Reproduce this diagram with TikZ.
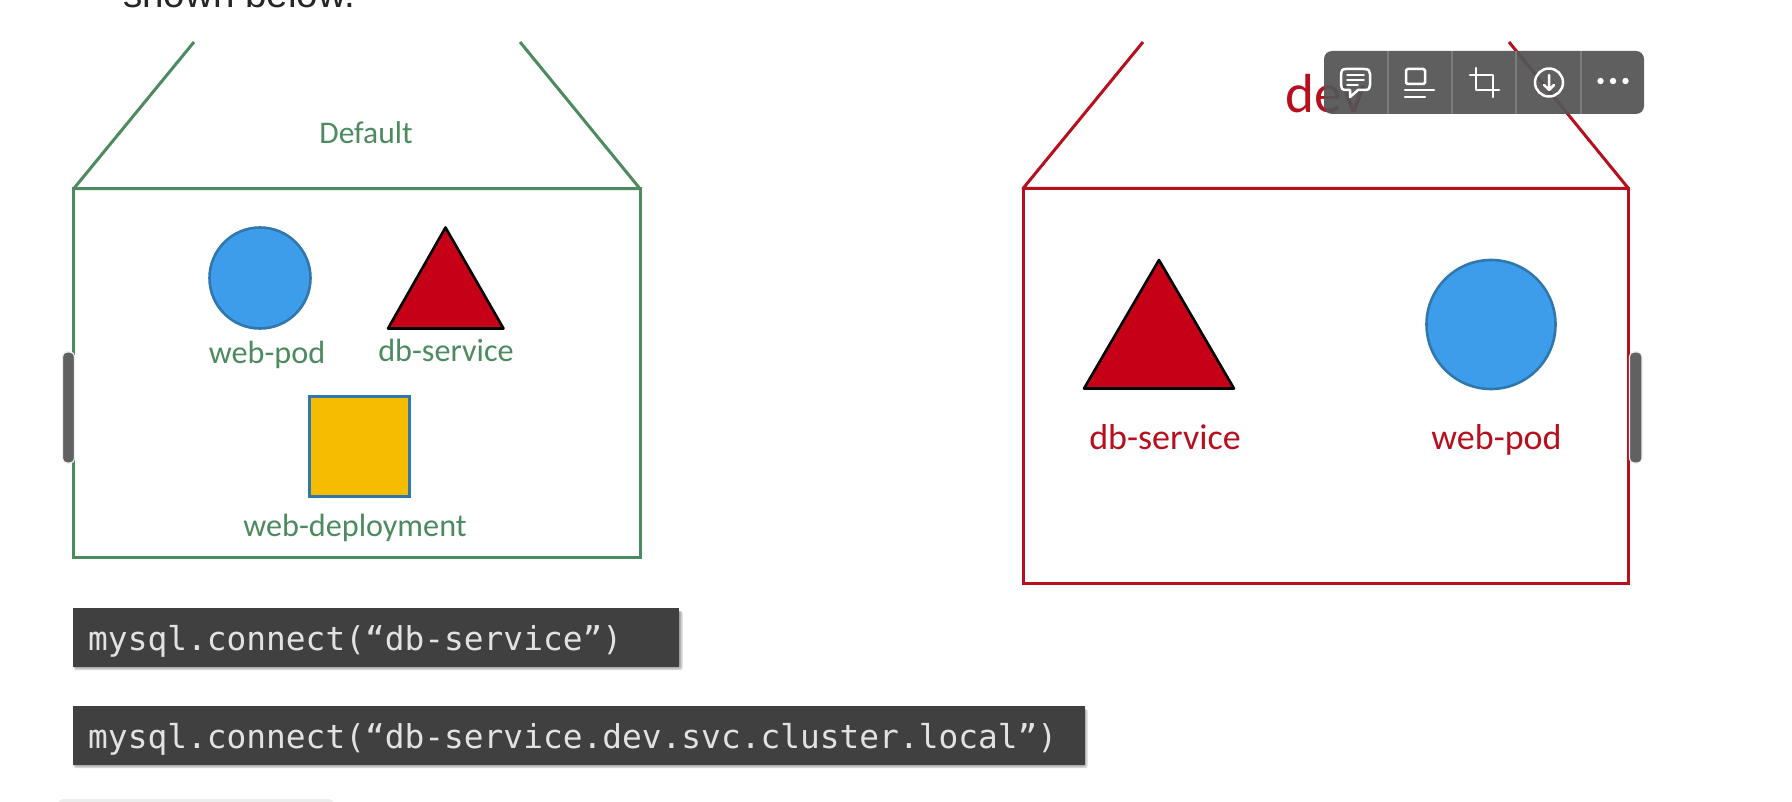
\documentclass[tikz,border=0pt]{standalone}
\usepackage{fontspec}
\setmainfont{Carlito}
\newfontfamily\codefont{DejaVu Sans Mono}
\newfontfamily\pagefont{Liberation Sans}
\definecolor{nsgreen}{HTML}{4C8A5F}
\definecolor{nsred}{HTML}{B80F1E}
\definecolor{trired}{HTML}{C50017}
\definecolor{podblue}{HTML}{3E9DEB}
\definecolor{podedge}{HTML}{2F77AD}
\definecolor{depyellow}{HTML}{F6BC00}
\definecolor{codebg}{HTML}{404040}
\definecolor{codefg}{HTML}{E2E2E2}
\definecolor{barbg}{HTML}{555555}
\definecolor{barsep}{HTML}{7C7C7C}
\tikzset{
  greenline/.style={draw=nsgreen,line width=3pt},
  redline/.style={draw=nsred,line width=3pt},
  tritop/.style={fill=trired,draw=black,line width=2.6pt,line join=round},
  podshape/.style={fill=podblue,draw=podedge,line width=2.6pt},
  greenlabel/.style={text=nsgreen,font=\fontsize{32.2}{32}\selectfont,anchor=base,inner sep=0pt},
  redlabel/.style={text=nsred,font=\fontsize{36}{36}\selectfont,anchor=base,inner sep=0pt},
  codetext/.style={text=codefg,font=\codefont\fontsize{32.85}{33}\selectfont,anchor=base west,inner sep=0pt},
  codebox/.style={fill=codebg,draw=none},
  codeshadow/.style={fill=black,draw=none,fill opacity=.16,rounded corners=2pt},
  barline/.style={draw=white,line width=2.5pt,line cap=round,line join=round},
  handle/.style={fill=black!62,draw=white!94!black,line width=1.2pt,rounded corners=4.5pt}
}
\begin{document}
\begin{tikzpicture}[x=1pt,y=-1pt]
\useasboundingbox (0,0) rectangle (1792,802);
\fill[white] (0,0) rectangle (1792,802);
% page text cut by the top edge
\node[anchor=base west,inner sep=0pt,text=black!85,font=\pagefont\fontsize{38.6}{38}\selectfont] (pagetext) at (123,8) {shown below.};
% green namespace
\draw[greenline,line join=round] (194,42) -- (73.7,188.7) -- (640,188.7) -- (520,42);
\draw[greenline] (73.7,188.7) rectangle (640,557.7);
\node[greenlabel,font=\fontsize{31.5}{31}\selectfont] (default) at (366,143.5) {Default};
\draw[podshape] (260,278) circle (50.5);
\draw[tritop] (445.5,227.5) -- (503.5,328.5) -- (388,328.5) -- cycle;
\node[greenlabel] (webpodg) at (267,363) {web-pod};
\node[greenlabel] (dbserviceg) at (446,362) {db-service};
\draw[fill=depyellow,draw=podedge,line width=2.6pt] (309.5,396.5) rectangle (409.5,496.5);
\node[greenlabel] (webdep) at (355,536.5) {web-deployment};
% red namespace
\draw[redline,line join=round] (1143,42) -- (1023,188.5) -- (1628.5,188.5) -- (1509,42);
\draw[redline] (1023,188.5) rectangle (1628.5,583);
\node[anchor=base,inner sep=0pt,text=nsred,font=\fontsize{55}{55}\selectfont] (dev) at (1326,113) {dev};
\draw[tritop] (1159,260) -- (1234,388.5) -- (1084,388.5) -- cycle;
\draw[podshape] (1491,324.5) circle (64.5);
\node[redlabel] (dbservicer) at (1165,449.5) {db-service};
\node[redlabel] (webpodr) at (1496.5,449.5) {web-pod};
% code lines
\foreach \gr in {0,1.5,3}{
  \fill[codeshadow] (74,611) rectangle (679.5+\gr,667+\gr);
  \fill[codeshadow] (74,709) rectangle (1084.5+\gr,765+\gr);
}
\fill[codebox] (72.5,608) rectangle (679,667);
\node[codetext] (codeone) at (88,650) {mysql.connect(“db-service”)};
\fill[codebox] (72.5,706) rectangle (1084.5,765);
\node[codetext] (codetwo) at (88,748) {mysql.connect(“db-service.dev.svc.cluster.local”)};
% viewer toolbar
\fill[barbg,fill opacity=.94,rounded corners=8pt] (1324,51) rectangle (1644,114);
\foreach \sx in {1388,1452,1516,1581}
  \draw[barsep,line width=1.2pt] (\sx,51) -- (\sx,114);
% comment icon
\draw[barline] (1346,69) -- (1364,69) .. controls (1369,69) and (1370,71) .. (1370,74)
  -- (1370,85) .. controls (1370,88) and (1369,90) .. (1365,90) -- (1358,90) -- (1350,97) -- (1350,90)
  -- (1346,90) .. controls (1342,90) and (1341,88) .. (1341,85) -- (1341,74)
  .. controls (1341,71) and (1342,69) .. (1346,69) -- cycle;
\draw[barline,line width=1.5pt] (1347,75) -- (1364,75) (1347,80) -- (1364,80) (1347,85) -- (1358,85);
% layout icon
\draw[barline,rounded corners=1.5pt] (1406,69) rectangle (1425,84);
\draw[barline] (1405,90) -- (1434,90) (1405,97) -- (1425,97);
% crop icon
\draw[barline] (1470,75) -- (1493,75) -- (1493,97) (1476,68) -- (1476,90) -- (1499,90);
% download icon
\draw[barline] (1549,82.5) circle (14);
\draw[barline] (1549,75) -- (1549,90) (1544,85) -- (1549,90) -- (1554,85);
% dots
\foreach \dx in {1600.5,1613,1625.5}
  \fill[white] (\dx,81) circle (3.2);
% side handles
\draw[handle] (62.5,352) rectangle (74.5,463);
\draw[handle] (1629.5,352) rectangle (1642,463);
% stub at the bottom edge
\fill[black!7,rounded corners=6pt] (58,799) rectangle (334,812);
\end{tikzpicture}
\end{document}
